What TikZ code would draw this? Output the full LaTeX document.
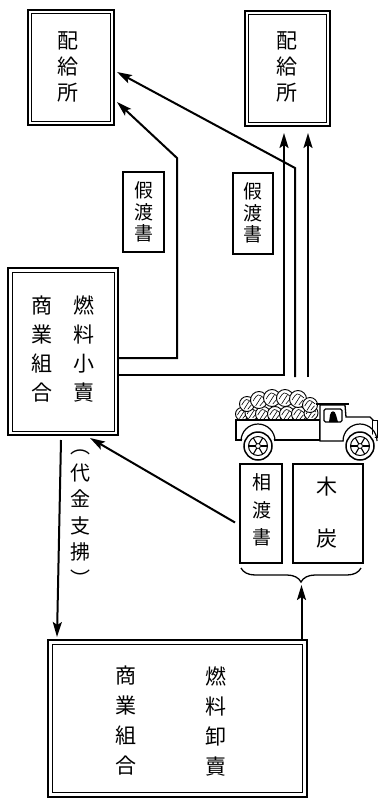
\documentclass[tikz,border=0pt]{standalone}
\usepackage{fontspec}
\newfontfamily\cjk{Noto Sans CJK JP}
\usetikzlibrary{arrows.meta,calc,decorations.pathreplacing}

% inner line of a double-ruled frame, #2 = inset
\newcommand\dblinner[2]{%
  \draw[line width=0.9pt] ($(#1.north west)+(#2,#2)$) rectangle ($(#1.south east)-(#2,#2)$);}

\begin{document}
\begin{tikzpicture}[x=1pt,y=-1pt,
  frame/.style={draw, line width=1.8pt, anchor=north west, inner sep=0pt, outer sep=0pt},
  slip/.style={draw, line width=1.4pt, anchor=north west, inner sep=0pt, outer sep=0pt},
  vt/.style args={#1/#2}{align=center, inner sep=0pt, font=\cjk\fontsize{#1}{#2}\selectfont},
  conn/.style={line width=2pt, -{Stealth[length=15pt,width=9pt,inset=3pt]}},
  lump/.style={fill=white, line width=0.9pt}
]
\useasboundingbox (0,0) rectangle (381,800);

% ---- distribution centres ----
\node[frame, minimum width=86pt, minimum height=115pt] (dl) at (28,10) {};
\dblinner{dl}{3.5}
\node[vt=21/26] (dlt) at (68,67) {配\\給\\所};

\node[frame, minimum width=85pt, minimum height=115pt] (dr) at (245,11) {};
\dblinner{dr}{3.5}
\node[vt=21/26] (drt) at (287,67) {配\\給\\所};

% ---- provisional delivery slips ----
\node[slip, minimum width=41pt, minimum height=80pt] (kl) at (123,172) {};
\node[vt=19/21.5] (klt) at (143.5,212) {假\\渡\\書};
\node[slip, minimum width=40pt, minimum height=81pt] (kr) at (233,173) {};
\node[vt=19/21.5] (krt) at (253,213) {假\\渡\\書};

% ---- retail union ----
\node[frame, minimum width=110pt, minimum height=167pt] (shoko) at (8,268) {};
\dblinner{shoko}{4}
\node[vt=21/29.3] (shokoL) at (42,349) {商\\業\\組\\合};
\node[vt=21/29.3] (shokoR) at (84,349) {燃\\料\\小\\賣};

% ---- transfer note and charcoal ----
\node[slip, minimum width=42pt, minimum height=99pt] (sowa) at (240,464) {};
\node[vt=19/27.5] (sowat) at (262,510) {相\\渡\\書};
\node[slip, minimum width=70pt, minimum height=99pt] (mokutan) at (293,464) {};
\node[vt=21/52] (mokutant) at (327,513) {木\\炭};

% ---- wholesale union ----
\node[frame, minimum width=259pt, minimum height=157pt] (oroshi) at (48,640) {};
\dblinner{oroshi}{4.5}
\node[vt=21/30] (oroshiL) at (126,721) {商\\業\\組\\合};
\node[vt=21/30] (oroshiR) at (216,721) {燃\\料\\卸\\賣};

% ---- payment label ----
\node[vt=20/26.5] (pay) at (80,518) {︵\\代\\金\\支\\拂\\︶};

% ---- truck: charcoal load ----
\foreach \x/\y/\r in {242/414/6.5, 252/413/7, 263/414/7.5, 275/414/7.5, 287/414/7.5, 299/414/7.5, 311/413/7,
                      247/404/7.5, 259/400/8.5, 272/398/8.5, 285/398/8.5, 298/399/8.5, 310/405/7.5}{
  \draw[lump] (\x,\y) circle[radius=\r];
  \draw[line width=0.6pt] ({\x-0.7*\r},{\y+1}) .. controls ({\x-1},{\y-0.8*\r}) .. ({\x+0.7*\r},{\y-1});
  \draw[line width=0.6pt] ({\x-0.4*\r},{\y+0.7*\r}) -- ({\x+0.3*\r},{\y-0.4*\r});
  \draw[line width=0.6pt] ({\x+0.1*\r},{\y+0.7*\r}) -- ({\x+0.6*\r},{\y+0.1*\r});
}
% ---- truck: body, cab, wheels ----
\draw[fill=white, line width=1.3pt] (236,420) rectangle (320,440);
\draw[fill=white, line width=1.3pt] (320,441) -- (320,405) -- (345,405) -- (346,417) -- (370,417)
      -- (374,421) -- (374,441) -- cycle;
\draw[line width=2pt] (316,404) -- (349,404);
\draw[fill=white, line width=1pt] (372,420) rectangle (377,437);
\draw[line width=1.1pt, rounded corners=1.5pt] (324,409) rectangle (342,422);
\fill (329,422) -- (330,415) .. controls (331,410) and (335,410) .. (336,415) -- (338,422) -- cycle;
\foreach \cx in {258,360}{
  \fill[white] (\cx,446) circle[radius=17];
  \draw[line width=1.2pt] ({\cx-17},441) arc[start angle=180, end angle=360, radius=17];
  \draw[fill=white, line width=1.5pt] (\cx,446) circle[radius=14];
  \draw[line width=1pt] (\cx,446) circle[radius=9.5];
  \draw[line width=0.8pt] (\cx,446) circle[radius=2.5];
  \foreach \a in {0,60,...,300}
    \draw[line width=1.1pt] (\cx,446) ++(\a:2.5) -- ++(\a:7);
}
\coordinate (truckTop) at (301,377);

% ---- brace under the slips ----
\draw[decorate, decoration={brace, amplitude=14pt}, line width=1.3pt]
  ($(mokutan.south east)+(-2,5)$) -- ($(sowa.south west)+(1,5)$);
\coordinate (braceTip) at ($(sowa.south west)!0.5!(mokutan.south east)+(0,22)$);

% ---- connectors ----
\coordinate (aB1) at (177,358);
\coordinate (aB2) at (177,158);
\coordinate (tipB) at (117,102);
\draw[conn] (shoko.east |- aB1) -- (aB1) -- (aB2) -- ($(dl.east |- tipB)+(3,0)$);

\coordinate (bB1) at (284,375);
\draw[conn] (shoko.east |- bB1) -- (bB1) -- ($(dr.south -| bB1)+(0,7)$);

\coordinate (cC1) at (295,168);
\coordinate (tipA) at (117,72);
\draw[conn] (cC1 |- truckTop) -- (cC1) -- ($(dl.east |- tipA)+(3,0)$);

\coordinate (dD) at (308,377);
\draw[conn] (dD) -- ($(dr.south -| dD)+(0,7)$);

\draw[conn] ($(sowa.west)+(-5,9)$) -- ($(shoko.south)+(27,3)$);

\draw[conn] ($(shoko.south)+(-2,5)$) -- ($(oroshi.north west)+(9,-3)$);

\draw[conn] (oroshi.north -| braceTip) -- (braceTip);
\end{tikzpicture}
\end{document}
